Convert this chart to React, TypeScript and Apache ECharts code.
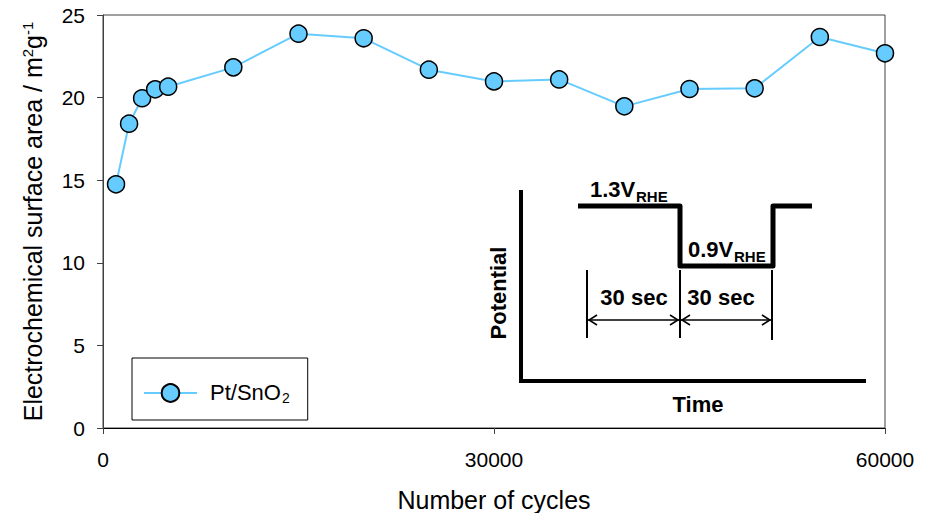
import React, { useEffect, useRef } from "react";
import * as echarts from "echarts";

const cycles = [1000, 2000, 3000, 4000, 5000, 10000, 15000, 20000, 25000, 30000, 35000, 40000, 45000, 50000, 55000, 60000];
const ecsa = [14.75, 18.42, 19.96, 20.5, 20.66, 21.83, 23.87, 23.59, 21.69, 20.98, 21.1, 19.47, 20.52, 20.56, 23.67, 22.68];
const xRange = [0, 60000];
const xStep = 30000;
const yRange = [0, 25];
const yStep = 5;
const seriesName = "Pt/SnO2";

const FONT = '"Liberation Sans", Arial, Helvetica, sans-serif';
const LINE = "#66CCFF";

export default function App() {
  const ref = useRef<HTMLDivElement>(null);
  useEffect(() => {
    if (!ref.current) return;
    const chart = echarts.init(ref.current, null, { renderer: "svg" });
    const bold = (s: number) => `bold ${s}px ${FONT}`;
    const arrow = (x1: number, x2: number, y: number) => [
      { type: "line", shape: { x1, y1: y, x2, y2: y }, style: { stroke: "#000", lineWidth: 1.5 } },
      { type: "polyline", shape: { points: [[x1 + 9, y - 5], [x1 + 1, y], [x1 + 9, y + 5]] }, style: { stroke: "#000", lineWidth: 1.5, fill: null } },
      { type: "polyline", shape: { points: [[x2 - 9, y - 5], [x2 - 1, y], [x2 - 9, y + 5]] }, style: { stroke: "#000", lineWidth: 1.5, fill: null } },
    ];
    const txt = (text: string, x: number, y: number, size: number, align = "left", rotation = 0) => ({
      type: "text",
      x,
      y,
      rotation,
      style: { text, font: bold(size), fill: "#000", textAlign: align, textVerticalAlign: "middle" },
    });
    chart.setOption({
      animation: false,
      backgroundColor: "#fff",
      textStyle: { fontFamily: FONT },
      grid: { left: 103, right: 50, top: 15, bottom: 85, show: true, borderColor: "#404040", borderWidth: 1, containLabel: false, outerBoundsMode: "none" },
      legend: {
        left: 132,
        top: 358,
        orient: "vertical",
        itemWidth: 53,
        itemHeight: 22,
        padding: [15, 18, 15, 11],
        borderColor: "#000",
        borderWidth: 1,
        borderRadius: 0,
        backgroundColor: "#fff",
        formatter: () => "{a|Pt/SnO}{b|2}",
        textStyle: {
          padding: [0, 0, 0, 8],
          rich: {
            a: { fontSize: 22, fontFamily: FONT, color: "#000", lineHeight: 24, verticalAlign: "top" },
            b: { fontSize: 14, fontFamily: FONT, color: "#000", lineHeight: 14, verticalAlign: "bottom", padding: [18, 0, 0, 1] },
          },
        },
        data: [seriesName],
      },
      xAxis: {
        type: "value",
        min: xRange[0],
        max: xRange[1],
        interval: xStep,
        name: "Number of cycles",
        nameLocation: "middle",
        nameGap: 59,
        nameTextStyle: { fontSize: 25, color: "#000", fontFamily: FONT },
        axisLine: { show: true, lineStyle: { color: "#000", width: 1 } },
        axisTick: { show: true, inside: false, length: 6, lineStyle: { color: "#404040" } },
        axisLabel: { fontSize: 21, color: "#000", margin: 21, fontFamily: FONT, formatter: (v: number) => String(v) },
        splitLine: { show: false },
      },
      yAxis: {
        type: "value",
        min: yRange[0],
        max: yRange[1],
        interval: yStep,
        name: "{a|Electrochemical surface area / m}{s|2}{a|g}{s|-1}",
        nameLocation: "middle",
        nameRotate: 90,
        nameGap: 58,
        nameTextStyle: {
          color: "#000",
          rich: {
            a: { fontSize: 25, fontFamily: FONT, color: "#000", lineHeight: 25, verticalAlign: "bottom", padding: [7, 0, 0, 0] },
            s: { fontSize: 15, fontFamily: FONT, color: "#000", lineHeight: 15, verticalAlign: "top" },
          },
        },
        axisLine: { show: true, lineStyle: { color: "#404040", width: 1 } },
        axisTick: { show: true, inside: false, length: 6, lineStyle: { color: "#404040" } },
        axisLabel: { fontSize: 21, color: "#000", margin: 18, fontFamily: FONT, formatter: (v: number) => String(v) },
        splitLine: { show: false },
      },
      series: [
        {
          name: seriesName,
          type: "line",
          data: cycles.map((c, i) => [c, ecsa[i]]),
          symbol: "circle",
          symbolSize: 17,
          lineStyle: { color: LINE, width: 2 },
          itemStyle: { color: LINE, borderColor: "#000", borderWidth: 1.5 },
          z: 3,
        },
      ],
      graphic: [
        { type: "polyline", shape: { points: [[521, 190], [521, 381], [866, 381]] }, style: { stroke: "#000", lineWidth: 4, fill: null }, z: 10 },
        { type: "polyline", shape: { points: [[578, 206], [680, 206], [680, 266], [773, 266], [773, 206], [812, 206]] }, style: { stroke: "#000", lineWidth: 5, fill: null, lineJoin: "round" }, z: 10 },
        { type: "line", shape: { x1: 587, y1: 270, x2: 587, y2: 338 }, style: { stroke: "#000", lineWidth: 2 }, z: 10 },
        { type: "line", shape: { x1: 680, y1: 270, x2: 680, y2: 338 }, style: { stroke: "#000", lineWidth: 2 }, z: 10 },
        { type: "line", shape: { x1: 772, y1: 270, x2: 772, y2: 340 }, style: { stroke: "#000", lineWidth: 2 }, z: 10 },
        ...arrow(588, 679, 320).map((e) => ({ ...e, z: 10 })),
        ...arrow(681, 771, 320).map((e) => ({ ...e, z: 10 })),
        { ...txt("1.3V", 590, 189, 22), z: 10 },
        { ...txt("RHE", 636, 196, 15), z: 10 },
        { ...txt("0.9V", 688, 249, 22), z: 10 },
        { ...txt("RHE", 734, 256, 15), z: 10 },
        { ...txt("30 sec", 634, 297, 22, "center"), z: 10 },
        { ...txt("30 sec", 721, 297, 22, "center"), z: 10 },
        { ...txt("Potential", 498, 293, 22, "center", Math.PI / 2), z: 10 },
        { ...txt("Time", 698, 404, 22, "center"), z: 10 },
      ],
    });
    return () => chart.dispose();
  }, []);
  return <div ref={ref} style={{ position: "absolute", left: 0, top: 0, width: 935, height: 513 }} />;
}
